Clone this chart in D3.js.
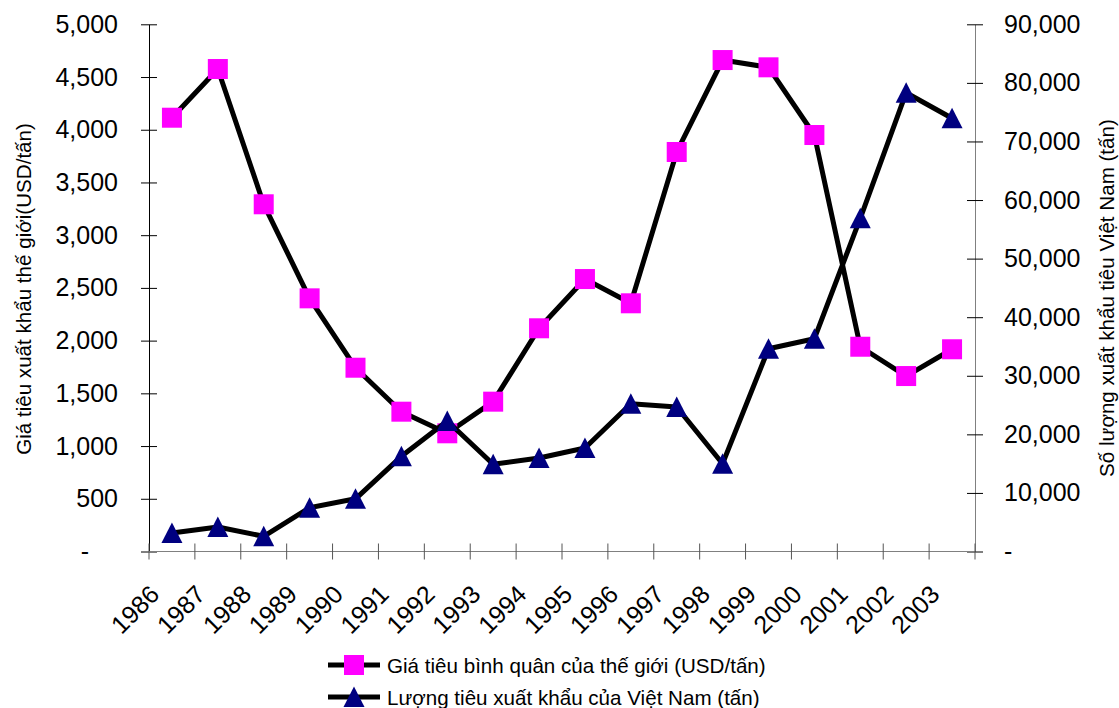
<!DOCTYPE html>
<html>
<head>
<meta charset="utf-8">
<script src="https://cdn.jsdelivr.net/npm/d3@7"></script>
<style>
  body { margin: 0; background: #fff; }
  text { font-family: "Liberation Sans", Arial, sans-serif; fill: #000; }
</style>
</head>
<body>
<div id="chart"></div>
<script>
// Data
const years = ['1986', '1987', '1988', '1989', '1990', '1991', '1992', '1993', '1994',
    '1995', '1996', '1997', '1998', '1999', '2000', '2001', '2002', '2003'];
const worldPrice = [4114, 4576, 3293, 2401, 1743, 1326, 1121, 1421, 2117,
    2584, 2354, 3789, 4661, 4592, 3950, 1942, 1664, 1918];
const vnExport = [3158, 4182, 2595, 7477, 8996, 16252, 22278, 14886, 15962,
    17669, 25231, 24668, 14989, 34620, 36328, 56881, 78323, 73953];
const leftTicks = [0, 500, 1000, 1500, 2000, 2500, 3000, 3500, 4000, 4500, 5000];
const rightTicks = [0, 10000, 20000, 30000, 40000, 50000, 60000, 70000, 80000, 90000];
const priceName = 'Giá tiêu bình quân của thế giới (USD/tấn)';
const exportName = 'Lượng tiêu xuất khẩu của Việt Nam (tấn)';
const leftTitle = 'Giá tiêu xuất khẩu thế giới(USD/tấn)';
const rightTitle = 'Số lượng xuất khẩu tiêu Việt Nam (tấn)';

const W = 1119, H = 708;
const plot = { left: 149, right: 975, top: 24.3, bottom: 551.5 };

const svg = d3.select('#chart').append('svg')
    .attr('width', W)
    .attr('height', H);

svg.append('rect').attr('width', W).attr('height', H).attr('fill', '#fff');

const x = d3.scaleBand().domain(years).range([plot.left, plot.right]);
const yL = d3.scaleLinear().domain([0, 5000]).range([plot.bottom, plot.top]);
const yR = d3.scaleLinear().domain([0, 90000]).range([plot.bottom, plot.top]);
const cx = d => x(d) + x.bandwidth() / 2;
const fmt = v => v === 0 ? '-' : d3.format(',')(v);

// Left axis
const gL = svg.append('g')
    .attr('transform', `translate(${plot.left},0)`)
    .call(d3.axisLeft(yL).tickValues(leftTicks).tickSize(0).tickPadding(31).tickFormat(fmt));
gL.select('.domain').attr('stroke', '#000');
gL.selectAll('.tick line').attr('x1', -8).attr('x2', 8).attr('stroke', '#000');
gL.selectAll('.tick text')
    .style('font-size', '25px')
    .attr('dx', d => d === 0 ? -29 : 0);

// Right axis
const gR = svg.append('g')
    .attr('transform', `translate(${plot.right},0)`)
    .call(d3.axisRight(yR).tickValues(rightTicks).tickSize(0).tickPadding(29).tickFormat(fmt));
gR.select('.domain').attr('stroke', '#808080');
gR.selectAll('.tick line').attr('x1', -8).attr('x2', 8).attr('stroke', '#000');
gR.selectAll('.tick text').style('font-size', '25px');

// Bottom axis with ticks on category boundaries
svg.append('line')
    .attr('x1', plot.left).attr('x2', plot.right)
    .attr('y1', plot.bottom).attr('y2', plot.bottom)
    .attr('stroke', '#808080');
const bounds = years.map(d => x(d)).concat([x(years[years.length - 1]) + x.bandwidth()]);
svg.selectAll('.xtick')
    .data(bounds)
    .enter()
    .append('line')
    .attr('class', 'xtick')
    .attr('x1', d => d).attr('x2', d => d)
    .attr('y1', plot.bottom - 8).attr('y2', plot.bottom + 8)
    .attr('stroke', '#555');

svg.selectAll('.xlabel')
    .data(years)
    .enter()
    .append('text')
    .attr('class', 'xlabel')
    .attr('transform', d => `translate(${cx(d) - 11},596)rotate(-45)`)
    .attr('text-anchor', 'end')
    .style('font-size', '25px')
    .text(d => d);

// Axis titles
svg.append('text')
    .attr('transform', 'translate(23,289)rotate(-90)')
    .attr('text-anchor', 'middle')
    .attr('dominant-baseline', 'central')
    .style('font-size', '20.6px')
    .text(leftTitle);

svg.append('text')
    .attr('transform', 'translate(1106,298)rotate(-90)')
    .attr('text-anchor', 'middle')
    .attr('dominant-baseline', 'central')
    .style('font-size', '20.6px')
    .text(rightTitle);

// Markers
const square = (g, px, py) => g.append('rect')
    .attr('x', px - 10).attr('y', py - 10)
    .attr('width', 20).attr('height', 20)
    .attr('fill', '#ff00ff');
const triangle = (g, px, py) => g.append('path')
    .attr('d', `M${px},${py - 10.5}L${px + 10.5},${py + 10}L${px - 10.5},${py + 10}Z`)
    .attr('fill', '#000080');

// Price series (left axis)
const linePrice = d3.line().x((d, i) => cx(years[i])).y(d => yL(d));
const gP = svg.append('g');
gP.append('path')
    .datum(worldPrice)
    .attr('d', linePrice)
    .attr('fill', 'none')
    .attr('stroke', '#000')
    .attr('stroke-width', 5)
    .attr('stroke-linejoin', 'round');
worldPrice.forEach((v, i) => square(gP, cx(years[i]), yL(v)));

// Export series (right axis)
const lineExport = d3.line().x((d, i) => cx(years[i])).y(d => yR(d));
const gE = svg.append('g');
gE.append('path')
    .datum(vnExport)
    .attr('d', lineExport)
    .attr('fill', 'none')
    .attr('stroke', '#000')
    .attr('stroke-width', 5)
    .attr('stroke-linejoin', 'round');
vnExport.forEach((v, i) => triangle(gE, cx(years[i]), yR(v)));

// Legend
const legend = svg.append('g');
const items = [
    { name: priceName, y: 665, marker: square },
    { name: exportName, y: 697, marker: triangle }
];
items.forEach(it => {
    legend.append('line')
        .attr('x1', 328).attr('x2', 380)
        .attr('y1', it.y).attr('y2', it.y)
        .attr('stroke', '#000')
        .attr('stroke-width', 5);
    it.marker(legend, 354, it.y);
    legend.append('text')
        .attr('x', 387)
        .attr('y', it.y)
        .attr('dominant-baseline', 'central')
        .style('font-size', '20.6px')
        .text(it.name);
});
</script>
</body>
</html>
